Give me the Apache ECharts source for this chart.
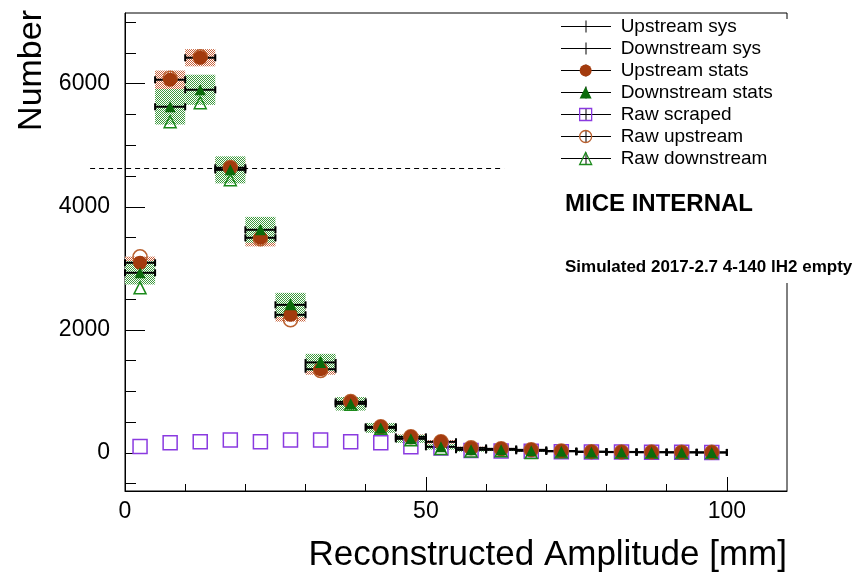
<!DOCTYPE html>
<html>
<head>
<meta charset="utf-8">
<script src="https://cdn.jsdelivr.net/npm/echarts@6/dist/echarts.min.js"></script>
<style>
  html, body { margin: 0; padding: 0; background: #fff; }
  #chart { width: 864px; height: 576px; }
</style>
</head>
<body>
<div id="chart"></div>
<script>
// bins of 5 mm
var binCenters = [2.5, 7.5, 12.5, 17.5, 22.5, 27.5, 32.5, 37.5, 42.5, 47.5,
                  52.5, 57.5, 62.5, 67.5, 72.5, 77.5, 82.5, 87.5, 92.5, 97.5]
var binHalf = 2.5

var upStats = [3090, 6065, 6423, 4634, 3496, 2244, 1360, 829, 423, 260, 179, 81, 65, 49, 30, 20, 15, 12, 10, 8]
var downStats = [2927, 5626, 5902, 4600, 3626, 2406, 1470, 797, 406, 228, 98, 49, 49, 33, 25, 15, 12, 10, 8, 6]
var upStatErr = [100, 150, 140, 150, 140, 110, 90, 70, 50, 40, 30, 20, 15, 10, 8, 6, 5, 4, 3, 3]
var downStatErr = [190, 290, 245, 220, 210, 195, 140, 110, 80, 65, 45, 30, 20, 15, 10, 8, 6, 5, 4, 3]
var upSysErr = [40, 60, 60, 50, 45, 35, 25, 20, 15, 10, 8, 6, 5, 4, 3, 3, 2, 2, 2, 2]
var downSysErr = [40, 60, 60, 50, 45, 35, 25, 20, 15, 10, 8, 6, 5, 4, 3, 3, 2, 2, 2, 2]
var rawScraped = [103, 163, 179, 211, 179, 211, 211, 179, 163, 98, 81, 40, 30, 25, 20, 15, 12, 10, 8, 6]
var rawUp = [3187, 6090, 6440, 4640, 3480, 2163, 1340, 835, 425, 262, 180, 82, 66, 50, 30, 20, 15, 12, 10, 8]
var rawDown = [2683, 5382, 5691, 4439, 3600, 2390, 1460, 790, 400, 215, 70, 30, 35, 5, 20, 12, 10, 8, 6, 5]

// dashed reference line
var refLineY = 4630
var refLineX = [-5.8, 63]

// axis ticks
var xMajorTicks = [0, 50, 100]
var xMinorTicks = [10, 20, 30, 40, 60, 70, 80, 90]
var yMajorTicks = [0, 2000, 4000, 6000]
var yMinorTicks = [-500, 500, 1000, 1500, 2500, 3000, 3500, 4500, 5000, 5500, 6500, 7000]

var FONT = 'Liberation Sans, Arial, Helvetica, sans-serif'
var BROWN = '#a33b0e'
var BROWN_RAW = '#b9602f'
var GREEN = '#0b6b0b'
var GREEN_RAW = '#1b8a1b'
var PURPLE = '#8a3ae0'

function dotPattern (color) {
  var c = document.createElement('canvas')
  c.width = 2
  c.height = 2
  var g = c.getContext('2d')
  g.fillStyle = '#fff'
  g.fillRect(0, 0, 2, 2)
  g.fillStyle = color
  g.fillRect(0, 0, 1, 1)
  g.fillRect(1, 1, 1, 1)
  return { image: c, repeat: 'repeat' }
}

function triples (ys, errs) {
  return binCenters.map(function (x, i) { return [x, ys[i], errs[i]] })
}
function pairs (ys) {
  return binCenters.map(function (x, i) { return [x, ys[i]] })
}

function boxItem (fill) {
  return function (params, api) {
    var x = api.value(0), y = api.value(1), e = api.value(2)
    var p1 = api.coord([x - binHalf, y + e])
    var p2 = api.coord([x + binHalf, y - e])
    return {
      type: 'rect',
      shape: { x: p1[0], y: p1[1], width: p2[0] - p1[0], height: p2[1] - p1[1] },
      style: { fill: fill }
    }
  }
}

function barItem (params, api) {
  var x = api.value(0), y = api.value(1), e = api.value(2)
  var l = api.coord([x - binHalf, y])
  var r = api.coord([x + binHalf, y])
  var t = api.coord([x, y + e])
  var b = api.coord([x, y - e])
  var cap = 3.5
  var st = { stroke: '#000', lineWidth: 2 }
  return {
    type: 'group',
    children: [
      { type: 'line', shape: { x1: l[0], y1: l[1], x2: r[0], y2: r[1] }, style: st },
      { type: 'line', shape: { x1: l[0], y1: l[1] - cap, x2: l[0], y2: l[1] + cap }, style: st },
      { type: 'line', shape: { x1: r[0], y1: r[1] - cap, x2: r[0], y2: r[1] + cap }, style: st },
      { type: 'line', shape: { x1: t[0], y1: t[1], x2: b[0], y2: b[1] }, style: { stroke: '#000', lineWidth: 1.5 } }
    ]
  }
}

var names = ['Upstream sys', 'Downstream sys', 'Upstream stats', 'Downstream stats',
  'Raw scraped', 'Raw upstream', 'Raw downstream']

var lineIcon = 'path://M0,5.5h50v1h-50z M24.5,0h1v12h-1z'
var markerIcons = [
  { icon: 'circle', itemStyle: { color: 'rgba(0,0,0,0)', borderWidth: 0 } },
  { icon: 'circle', itemStyle: { color: 'rgba(0,0,0,0)', borderWidth: 0 } },
  { icon: 'circle', itemStyle: { color: BROWN, borderWidth: 0 } },
  { icon: 'triangle', itemStyle: { color: GREEN, borderWidth: 0 } },
  { icon: 'rect', itemStyle: { color: 'rgba(0,0,0,0)', borderColor: PURPLE, borderWidth: 1.3 } },
  { icon: 'circle', itemStyle: { color: 'rgba(0,0,0,0)', borderColor: BROWN_RAW, borderWidth: 1.3 } },
  { icon: 'triangle', itemStyle: { color: 'rgba(0,0,0,0)', borderColor: GREEN_RAW, borderWidth: 1.3 } }
]

function plain (v) { return String(v) }

var chart = echarts.init(document.getElementById('chart'), null, { renderer: 'canvas' })

chart.setOption({
  animation: false,
  backgroundColor: '#fff',
  grid: {
    left: 125, right: 77, top: 13, bottom: 85, show: true, borderColor: '#000', borderWidth: 1,
    containLabel: false, outerBoundsMode: 'none'
  },
  legend: [
    {
      orient: 'vertical', left: 556, top: 12, itemGap: 3, itemWidth: 50, itemHeight: 12,
      selectedMode: false,
      textStyle: { fontFamily: FONT, fontSize: 19, color: 'rgba(0,0,0,0)' },
      data: names.map(function (n) {
        return { name: n, icon: lineIcon, itemStyle: { color: '#000', borderWidth: 0 } }
      })
    },
    {
      orient: 'vertical', left: 574, top: 12, itemGap: 3, itemWidth: 12, itemHeight: 12,
      selectedMode: false,
      textStyle: { fontFamily: FONT, fontSize: 19, color: '#000', padding: [0, 0, 0, 24] },
      data: names.map(function (n, i) {
        return { name: n, icon: markerIcons[i].icon, itemStyle: markerIcons[i].itemStyle }
      })
    }
  ],
  xAxis: [
    {
      type: 'value', min: 0, max: 110, position: 'bottom',
      axisLine: { show: true, onZero: false, lineStyle: { color: '#000', width: 1 } },
      axisTick: { show: true, inside: true, length: 14, customValues: xMajorTicks, lineStyle: { color: '#000' } },
      axisLabel: { customValues: xMajorTicks, formatter: plain, fontFamily: FONT, fontSize: 23, color: '#000', margin: 9 },
      splitLine: { show: false }
    },
    {
      type: 'value', min: 0, max: 110, position: 'bottom',
      axisLine: { show: false, onZero: false },
      axisTick: { show: true, inside: true, length: 7, customValues: xMinorTicks, lineStyle: { color: '#000' } },
      axisLabel: { show: false },
      splitLine: { show: false }
    }
  ],
  yAxis: [
    {
      type: 'value', min: -620, max: 7150, position: 'left',
      name: 'Number', nameLocation: 'end', nameGap: 3, nameRotate: 90,
      nameTextStyle: { fontFamily: FONT, fontSize: 34, color: '#000', align: 'right', verticalAlign: 'bottom', padding: [0, 0, 76, 0] },
      axisLine: { show: true, onZero: false, lineStyle: { color: '#000', width: 1 } },
      axisTick: { show: true, inside: true, length: 20, customValues: yMajorTicks, lineStyle: { color: '#000' } },
      axisLabel: { customValues: yMajorTicks, formatter: plain, fontFamily: FONT, fontSize: 23, color: '#000', margin: 15 },
      splitLine: { show: false }
    },
    {
      type: 'value', min: -620, max: 7150, position: 'left',
      axisLine: { show: false, onZero: false },
      axisTick: { show: true, inside: true, length: 11, customValues: yMinorTicks, lineStyle: { color: '#000' } },
      axisLabel: { show: false },
      splitLine: { show: false }
    }
  ],
  series: [
    { name: 'Upstream stats', type: 'custom', z: 2, renderItem: boxItem(dotPattern('#c8623c')), data: triples(upStats, upStatErr), silent: true },
    { name: 'Downstream stats', type: 'custom', z: 2, renderItem: boxItem(dotPattern('#3d9a3d')), data: triples(downStats, downStatErr), silent: true },
    { name: 'Upstream sys', type: 'custom', z: 3, renderItem: barItem, data: triples(upStats, upSysErr), silent: true },
    { name: 'Downstream sys', type: 'custom', z: 3, renderItem: barItem, data: triples(downStats, downSysErr), silent: true },
    {
      name: 'Raw scraped', type: 'scatter', z: 4, symbol: 'rect', symbolSize: 14, data: pairs(rawScraped),
      itemStyle: { color: 'rgba(0,0,0,0)', borderColor: PURPLE, borderWidth: 1.5, opacity: 1 }
    },
    {
      name: 'Raw upstream', type: 'scatter', z: 4, symbol: 'circle', symbolSize: 14, data: pairs(rawUp),
      itemStyle: { color: 'rgba(0,0,0,0)', borderColor: BROWN_RAW, borderWidth: 1.5, opacity: 1 }
    },
    {
      name: 'Raw downstream', type: 'scatter', z: 4, symbol: 'triangle', symbolSize: 12, data: pairs(rawDown),
      itemStyle: { color: 'rgba(0,0,0,0)', borderColor: GREEN_RAW, borderWidth: 1.5, opacity: 1 }
    },
    {
      name: 'Upstream stats', type: 'scatter', z: 5, symbol: 'circle', symbolSize: 14, data: pairs(upStats),
      itemStyle: { color: BROWN, opacity: 1 }
    },
    {
      name: 'Downstream stats', type: 'scatter', z: 5, symbol: 'triangle', symbolSize: 11, data: pairs(downStats),
      itemStyle: { color: GREEN, opacity: 1 }
    }
  ]
})

// dashed reference line reaches past the y axis, so place it through the axis scales
var refA = chart.convertToPixel({ xAxisIndex: 0, yAxisIndex: 0 }, [refLineX[0], refLineY])
var refB = chart.convertToPixel({ xAxisIndex: 0, yAxisIndex: 0 }, [refLineX[1], refLineY])
var refPx = Math.round(refA[1]) + 0.5
// x title is right-aligned with the end of the x axis
var xEnd = chart.convertToPixel({ xAxisIndex: 0, yAxisIndex: 0 }, [110, -620])

chart.setOption({
  graphic: [
    { type: 'rect', z: 3, shape: { x: 780, y: 19, width: 84, height: 264 }, style: { fill: '#fff' } },
    {
      type: 'line', z: 3, silent: true,
      shape: { x1: refA[0], y1: refPx, x2: refB[0], y2: refPx },
      style: { stroke: '#000', lineWidth: 1, lineDash: [5, 4] }
    },
    {
      type: 'text', z: 5, x: xEnd[0], y: xEnd[1] + 64,
      style: { text: 'Reconstructed Amplitude [mm]', fontFamily: FONT, fontSize: 35, fill: '#000', align: 'right', verticalAlign: 'middle' }
    },
    { type: 'text', z: 5, x: 565, y: 204, style: { text: 'MICE INTERNAL', fontFamily: FONT, fontSize: 24, fontWeight: 'bold', fill: '#000', verticalAlign: 'middle' } },
    { type: 'text', z: 5, x: 565, y: 267, style: { text: 'Simulated 2017-2.7 4-140 lH2 empty', fontFamily: FONT, fontSize: 17, fontWeight: 'bold', fill: '#000', verticalAlign: 'middle' } }
  ]
})
</script>
</body>
</html>
